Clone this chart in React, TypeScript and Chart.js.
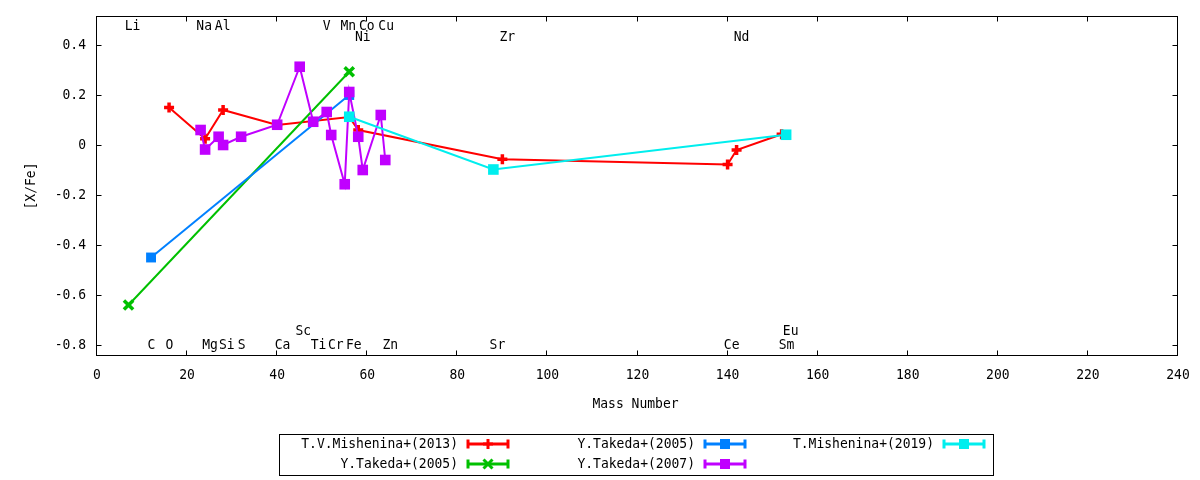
import { useEffect, useRef } from "react"
import { Chart, registerables } from "chart.js"

Chart.register(...registerables)

const FONT = "14px 'DejaVu Sans Mono', monospace"
const SQUEEZE = 0.93

// mass number (x) and [X/Fe] (y) for each study
const mish13Mass = [16, 24, 28, 40, 56, 58, 90, 140, 142, 152]
const mish13XFe = [0.15, 0.025, 0.14, 0.08, 0.112, 0.06, -0.057, -0.078, -0.02, 0.043]

const takeda05bMass = [7, 56]
const takeda05bXFe = [-0.64, 0.293]

const takeda05aMass = [12, 56]
const takeda05aXFe = [-0.45, 0.2]

const takeda07Mass = [23, 24, 27, 28, 32, 40, 45, 48, 51, 52, 55, 56, 58, 59, 63, 64]
const takeda07XFe = [0.06, -0.018, 0.033, 0.0, 0.033, 0.081, 0.313, 0.093, 0.132, 0.04, -0.157, 0.212, 0.033, -0.1, 0.12, -0.06]

const mish19Mass = [56, 88, 153]
const mish19XFe = [0.113, -0.098, 0.041]

const seriesNames = [
  "T.V.Mishenina+(2013)",
  "Y.Takeda+(2005)",
  "Y.Takeda+(2005)",
  "Y.Takeda+(2007)",
  "T.Mishenina+(2019)",
]

// element labels (placed in data coordinates)
const elemNames = ["Li", "Na", "Al", "V", "Mn", "Co", "Cu", "Ni", "Zr", "Nd",
  "C", "O", "Mg", "Si", "S", "Ca", "Ti", "Cr", "Fe", "Zn", "Sr", "Ce", "Sm", "Sc", "Eu"]
const elemMass = [7.9, 23.8, 27.9, 51.0, 55.8, 59.9, 64.2, 59.0, 91.1, 143.1,
  12.1, 16.1, 25.1, 28.8, 32.1, 41.2, 49.2, 53.0, 57.0, 65.1, 88.9, 140.9, 153.1, 45.8, 154.0]
const elemLevel = [0.476, 0.476, 0.476, 0.476, 0.476, 0.476, 0.476, 0.432, 0.432, 0.432,
  -0.8, -0.8, -0.8, -0.8, -0.8, -0.8, -0.8, -0.8, -0.8, -0.8, -0.8, -0.8, -0.8, -0.744, -0.744]

const RED = "#ff0000"
const GREEN = "#00c000"
const BLUE = "#0080ff"
const PURPLE = "#c000ff"
const CYAN = "#00eeee"

const pts = (xs: number[], ys: number[]) => xs.map((x, i) => ({ x, y: ys[i] }))

// gnuplot's png font is a narrow mono face, so squeeze DejaVu Sans Mono a bit
function text(ctx: CanvasRenderingContext2D, s: string, x: number, y: number, align: CanvasTextAlign, rot = 0) {
  ctx.save()
  ctx.translate(x, y)
  if (rot) ctx.rotate(rot)
  ctx.scale(SQUEEZE, 1)
  ctx.font = FONT
  ctx.fillStyle = "#000"
  ctx.textAlign = align
  ctx.textBaseline = "middle"
  ctx.fillText(s, 0, 0)
  ctx.restore()
}

function marker(ctx: CanvasRenderingContext2D, style: string, x: number, y: number, color: string) {
  ctx.save()
  ctx.strokeStyle = color
  ctx.fillStyle = color
  ctx.lineWidth = 3
  ctx.beginPath()
  if (style === "cross") {
    ctx.moveTo(x - 5, y); ctx.lineTo(x + 5, y)
    ctx.moveTo(x, y - 5); ctx.lineTo(x, y + 5)
    ctx.stroke()
  } else if (style === "crossRot") {
    ctx.moveTo(x - 4.5, y - 4.5); ctx.lineTo(x + 4.5, y + 4.5)
    ctx.moveTo(x - 4.5, y + 4.5); ctx.lineTo(x + 4.5, y - 4.5)
    ctx.stroke()
  } else {
    ctx.fillRect(x - 5, y - 5, 10, 10)
  }
  ctx.restore()
}

const gnuFrame = {
  id: "gnuFrame",
  beforeDatasetsDraw(chart: any) {
    const { ctx, chartArea: a, scales } = chart
    ctx.save()
    ctx.strokeStyle = "#000"
    ctx.lineWidth = 1
    const l = Math.round(a.left) - 0.5
    const r = Math.round(a.right) - 0.5
    const t = Math.round(a.top) - 0.5
    const b = Math.round(a.bottom) + 0.5
    ctx.strokeRect(l, t, r - l, b - t)
    ctx.beginPath()
    for (const tk of scales.x.ticks) {
      const px = Math.round(scales.x.getPixelForValue(tk.value)) - 0.5
      ctx.moveTo(px, b); ctx.lineTo(px, b - 5)
      ctx.moveTo(px, t); ctx.lineTo(px, t + 5)
    }
    for (const tk of scales.y.ticks) {
      const py = Math.round(scales.y.getPixelForValue(tk.value)) + 0.5
      ctx.moveTo(l, py); ctx.lineTo(l + 5, py)
      ctx.moveTo(r, py); ctx.lineTo(r - 5, py)
    }
    ctx.stroke()

    // tick labels from the library's scales
    for (const tk of scales.x.ticks) {
      text(ctx, String(tk.label), scales.x.getPixelForValue(tk.value), 375, "center")
    }
    for (const tk of scales.y.ticks) {
      text(ctx, String(tk.label), 86, scales.y.getPixelForValue(tk.value), "right")
    }

    // element labels
    elemNames.forEach((n, i) => {
      text(ctx, n, scales.x.getPixelForValue(elemMass[i]), scales.y.getPixelForValue(elemLevel[i]), "center")
    })
    ctx.restore()
  },
  afterDraw(chart: any) {
    const { ctx, chartArea: a } = chart
    ctx.save()
    text(ctx, "Mass Number", (a.left + a.right) / 2 - 2, 404, "center")
    text(ctx, "[X/Fe]", 31, (a.top + a.bottom) / 2, "center", -Math.PI / 2)

    // legend
    ctx.strokeStyle = "#000"
    ctx.lineWidth = 1
    ctx.strokeRect(279.5, 434.5, 714, 41)
    const colRight = [458, 695, 934]
    const rowY = [444, 464]
    chart.data.datasets.forEach((ds: any, i: number) => {
      const col = Math.floor(i / 2)
      const row = i % 2
      const tx = colRight[col]
      const y = rowY[row]
      text(ctx, ds.label, tx, y, "right")
      const x1 = tx + 10
      const x2 = tx + 50
      ctx.save()
      ctx.strokeStyle = ds.borderColor
      ctx.lineWidth = 3
      ctx.beginPath()
      ctx.moveTo(x1, y); ctx.lineTo(x2, y)
      ctx.moveTo(x1, y - 4.5); ctx.lineTo(x1, y + 4.5)
      ctx.moveTo(x2, y - 4.5); ctx.lineTo(x2, y + 4.5)
      ctx.stroke()
      ctx.restore()
      marker(ctx, ds.pointStyle, (x1 + x2) / 2, y, ds.borderColor)
    })
    ctx.restore()
  },
}

export default function App() {
  const canvasRef = useRef<HTMLCanvasElement>(null)

  useEffect(() => {
    const ctx = canvasRef.current?.getContext("2d")
    if (!ctx) return

    const chart = new Chart(ctx, {
      type: "line",
      data: {
        datasets: [
          {
            label: seriesNames[0],
            data: pts(mish13Mass, mish13XFe),
            borderColor: RED,
            backgroundColor: RED,
            pointStyle: "cross",
            pointRadius: 5,
            pointBorderWidth: 3.5,
            borderWidth: 2,
            order: 5,
          },
          {
            label: seriesNames[1],
            data: pts(takeda05bMass, takeda05bXFe),
            borderColor: GREEN,
            backgroundColor: GREEN,
            pointStyle: "crossRot",
            pointRadius: 6.5,
            pointBorderWidth: 3.5,
            borderWidth: 2,
            order: 4,
          },
          {
            label: seriesNames[2],
            data: pts(takeda05aMass, takeda05aXFe),
            borderColor: BLUE,
            backgroundColor: BLUE,
            pointStyle: "rect",
            pointRadius: 7,
            pointBorderWidth: 0,
            borderWidth: 2,
            order: 3,
          },
          {
            label: seriesNames[3],
            data: pts(takeda07Mass, takeda07XFe),
            borderColor: PURPLE,
            backgroundColor: PURPLE,
            pointStyle: "rect",
            pointRadius: 7.5,
            pointBorderWidth: 0,
            borderWidth: 2,
            order: 2,
          },
          {
            label: seriesNames[4],
            data: pts(mish19Mass, mish19XFe),
            borderColor: CYAN,
            backgroundColor: CYAN,
            pointStyle: "rect",
            pointRadius: 7.5,
            pointBorderWidth: 0,
            borderWidth: 2,
            order: 1,
          },
        ],
      },
      options: {
        responsive: true,
        maintainAspectRatio: false,
        animation: false,
        events: [],
        layout: { padding: { left: 0, top: 17, right: 22, bottom: 0 } },
        plugins: {
          legend: { display: false },
          tooltip: { enabled: false },
        },
        scales: {
          x: {
            type: "linear",
            min: 0,
            max: 240,
            grid: { display: false, drawTicks: false },
            border: { display: false },
            ticks: { stepSize: 20, display: false },
            afterFit: (s: any) => {
              s.height = 125
              s.paddingLeft = 0
              s.paddingRight = 0
            },
          },
          y: {
            type: "linear",
            min: -0.84,
            max: 0.512,
            grid: { display: false, drawTicks: false },
            border: { display: false },
            ticks: { stepSize: 0.2, includeBounds: false, display: false },
            afterFit: (s: any) => {
              s.width = 97
              s.paddingTop = 0
              s.paddingBottom = 0
            },
          },
        },
      },
      plugins: [gnuFrame],
    })

    return () => {
      chart.destroy()
    }
  }, [])

  return (
    <div style={{ position: "fixed", left: 0, top: 0, width: 1200, height: 480, background: "#fff" }}>
      <canvas ref={canvasRef}></canvas>
    </div>
  )
}
